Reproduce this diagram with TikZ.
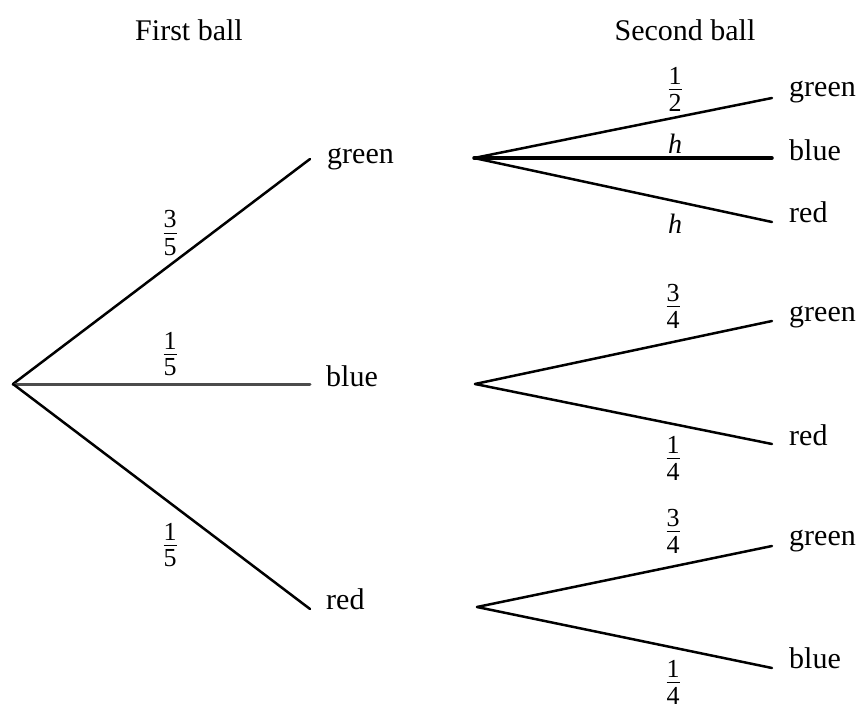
\documentclass[tikz,border=0pt]{standalone}
\usepackage{fontspec}
\setmainfont{Liberation Serif}
\newcommand{\fr}[2]{\vbox{\hbox to 0.5em{\hss#1\hss}\kern4.5pt\hrule height 1.3pt\kern4pt\hbox to 0.5em{\hss#2\hss}}}
\begin{document}
\begin{tikzpicture}[x=1pt,y=-1pt,
  branch/.style={line width=2.5pt, line cap=round},
  lbl/.style={anchor=mid west, inner sep=0pt, font=\fontsize{30}{33}\selectfont},
  head/.style={inner sep=0pt, font=\fontsize{30}{33}\selectfont},
  prob/.style={inner sep=0pt, font=\fontsize{26}{29}\selectfont}]
\useasboundingbox (0,0) rectangle (859,708);
\fill[white] (0,0) rectangle (859,708);
% headers
\node[head] (h1) at (189,30) {First ball};
\node[head] (h2) at (685,30) {Second ball};
% first level
\coordinate (root) at (13,384);
\coordinate (g1) at (310,159);
\coordinate (b1) at (310,384);
\coordinate (r1) at (310,609);
\node[lbl] (lg1) at (327,161) {green};
\node[lbl] (lb1) at (326,384) {blue};
\node[lbl] (lr1) at (326,607) {red};
\draw[branch] (root) -- (g1);
\draw[branch, line width=3pt, black!70] (root) -- (b1);
\draw[branch] (root) -- (r1);
\node[prob] (p1) at (170,233) {\fr{3}{5}};
\node[prob] (p2) at (170,354) {\fr{1}{5}};
\node[prob] (p3) at (170,545) {\fr{1}{5}};
% second level, after green
\coordinate (s1) at (474,158);
\coordinate (s1g) at (772,98);
\coordinate (s1b) at (772,158);
\coordinate (s1r) at (772,222);
\node[lbl] (ls1g) at (789,94) {green};
\node[lbl] (ls1b) at (789,158) {blue};
\node[lbl] (ls1r) at (789,220) {red};
\draw[branch] (s1) -- (s1g);
\draw[branch, line width=3.5pt] (s1) -- (s1b);
\draw[branch] (s1) -- (s1r);
\node[prob] (q1) at (675,89) {\fr{1}{2}};
\node[prob, anchor=base, font=\fontsize{28}{30}\selectfont] (q2) at (675,154) {\textit{h}};
\node[prob, anchor=base, font=\fontsize{28}{30}\selectfont] (q3) at (675,234) {\textit{h}};
% second level, after blue
\coordinate (s2) at (475,384);
\coordinate (s2g) at (772,321);
\coordinate (s2r) at (772,444);
\node[lbl] (ls2g) at (789,319) {green};
\node[lbl] (ls2r) at (789,443) {red};
\draw[branch] (s2) -- (s2g);
\draw[branch] (s2) -- (s2r);
\node[prob] (q4) at (673,306) {\fr{3}{4}};
\node[prob] (q5) at (673,458) {\fr{1}{4}};
% second level, after red
\coordinate (s3) at (477,607);
\coordinate (s3g) at (772,546);
\coordinate (s3b) at (772,668);
\node[lbl] (ls3g) at (789,543) {green};
\node[lbl] (ls3b) at (789,666) {blue};
\draw[branch] (s3) -- (s3g);
\draw[branch] (s3) -- (s3b);
\node[prob] (q6) at (673,531) {\fr{3}{4}};
\node[prob] (q7) at (673,682) {\fr{1}{4}};
\end{tikzpicture}
\end{document}
